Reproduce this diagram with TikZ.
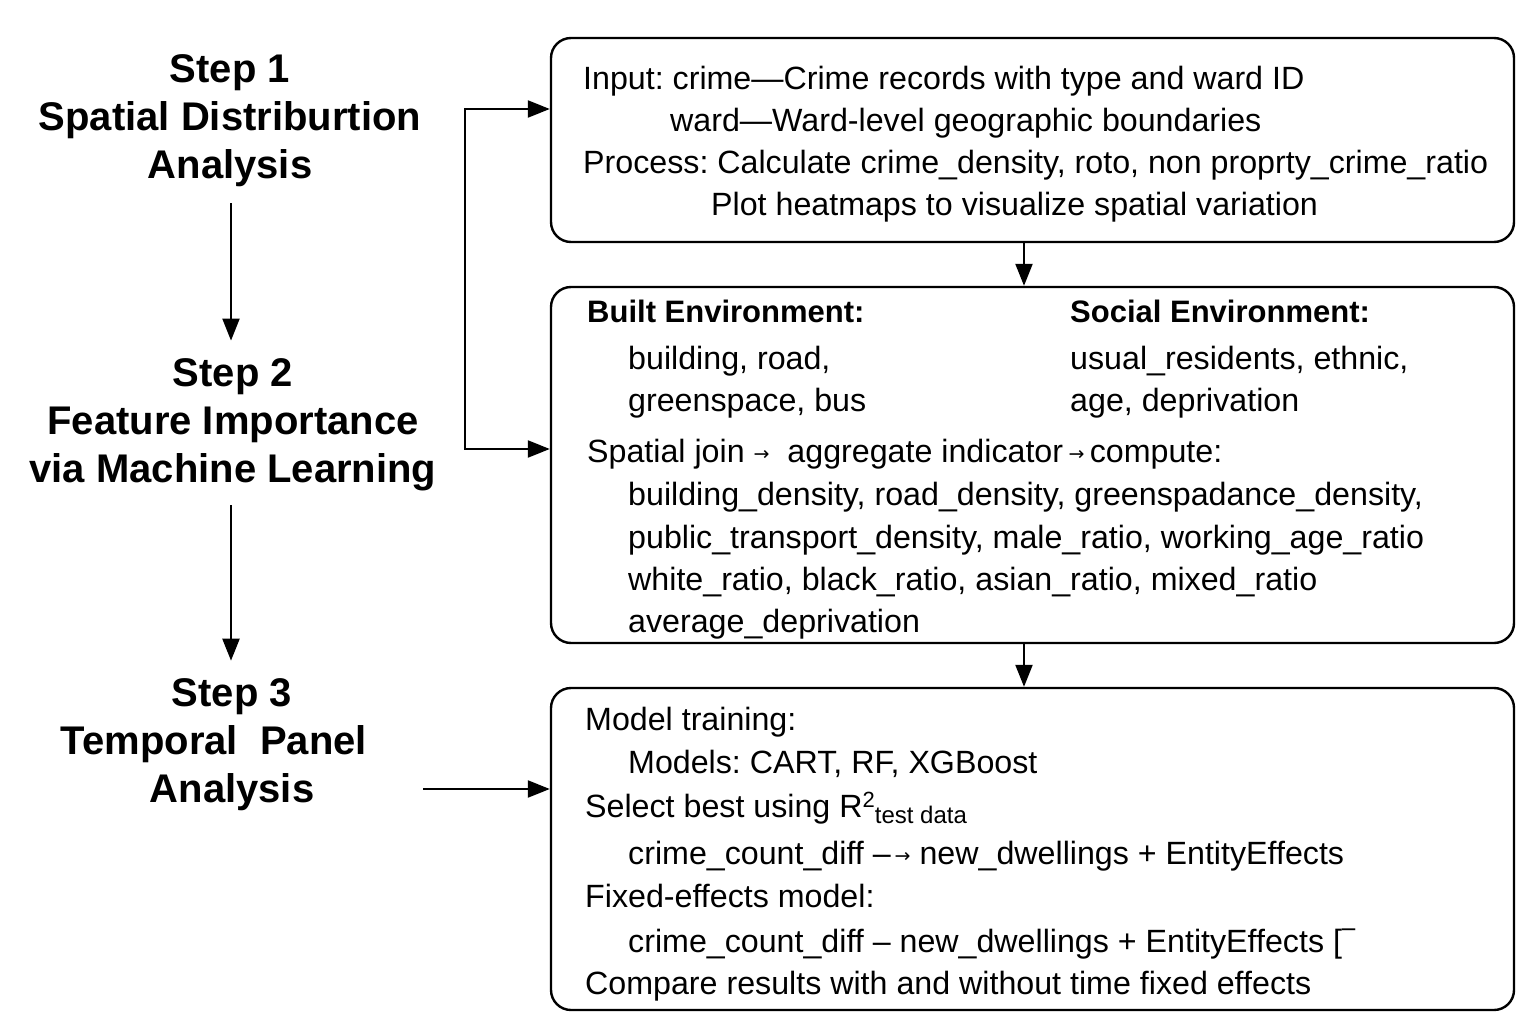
\documentclass[tikz,border=0pt]{standalone}
\usepackage{fontspec}
\setmainfont{Liberation Sans}
\newfontfamily\djv{DejaVu Sans}
\usetikzlibrary{arrows.meta}
\frenchspacing
\newcommand{\sarr}{\raisebox{2pt}{\djv\fontsize{19}{19}\selectfont →}}
\begin{document}
\begin{tikzpicture}[x=1pt,y=-1pt,
  boxst/.style={draw,line width=2.4pt,rounded corners=20pt,minimum width=963pt,inner sep=0pt},
  stepst/.style={align=center,font=\fontsize{40}{48}\selectfont\bfseries,inner sep=0pt},
  txt/.style={anchor=base west,inner sep=0pt,font=\fontsize{32.2}{37}\selectfont},
  btxt/.style={txt,font=\fontsize{31}{37}\selectfont\bfseries},
  arr/.style={line width=2.2pt,-{Triangle[length=22pt,width=17pt]}}]
\useasboundingbox (0,0) rectangle (1536,1024);
\fill[white] (0,0) rectangle (1536,1024);
% boxes
\node[boxst,minimum height=204pt] (b1) at (1032.5,140) {};
\node[boxst,minimum height=356pt] (b2) at (1032.5,465) {};
\node[boxst,minimum height=322pt] (b3) at (1032.5,849) {};
% steps
\node[stepst] (s1) at (230,121) {Step 1\\Spatial Distriburtion\\Analysis};
\node[stepst] (s2) at (233,425) {Step 2\\Feature Importance\\via Machine Learning};
\node[stepst] (s3) at (232,745) {Step 3\\Temporal\ \ Panel\mbox{\kern36pt}\\Analysis};
% box 1 text
\node[txt] (t11) at (583,90) {Input: crime—Crime records with type and ward ID};
\node[txt] (t12) at (670,132) {ward—Ward-level geographic boundaries};
\node[txt] (t13) at (583,174) {Process: Calculate crime\_density, roto, non proprty\_crime\_ratio};
\node[txt] (t14) at (711,216) {Plot heatmaps to visualize spatial variation};
% box 2 text
\node[btxt] (t21) at (587,322) {Built Environment:};
\node[btxt] (t22) at (1070,322) {Social Environment:};
\node[txt] (t23) at (628,369) {building, road,};
\node[txt] (t24) at (628,411) {greenspace, bus};
\node[txt] (t25) at (1070,369) {usual\_residents, ethnic,};
\node[txt] (t26) at (1070,411) {age, deprivation};
\node[txt] (t27) at (587,462) {Spatial join \sarr\ \ aggregate indicator\,\sarr\,compute:};
\node[txt] (t28) at (628,505) {building\_density, road\_density, greenspadance\_density,};
\node[txt] (t29) at (628,548) {public\_transport\_density, male\_ratio, working\_age\_ratio};
\node[txt] (t2a) at (628,590) {white\_ratio, black\_ratio, asian\_ratio, mixed\_ratio};
\node[txt] (t2b) at (628,632) {average\_deprivation};
% box 3 text
\node[txt] (t31) at (585,730) {Model training:};
\node[txt] (t32) at (628,773) {Models: CART, RF, XGBoost};
\node[txt] (t33) at (585,817) {Select best using R\raisebox{10pt}{\fontsize{22}{22}\selectfont 2}\raisebox{-6pt}{\fontsize{24}{24}\selectfont test data}};
\node[txt] (t34) at (628,864) {crime\_count\_diff –\kern4pt\sarr\ new\_dwellings + EntityEffects};
\node[txt] (t35) at (585,907) {Fixed-effects model:};
\node[txt] (t36) at (628,952) {crime\_count\_diff – new\_dwellings + EntityEffects [{\djv\fontsize{26}{26}\selectfont\raisebox{4pt}{‾}}};
\node[txt] (t37) at (585,994) {Compare results with and without time fixed effects};
% connectors
\coordinate (ax) at (231,0);
\draw[arr] ([yshift=-16pt]s1.south -| ax) -- ([yshift=18pt]s2.north -| ax);
\draw[arr] ([yshift=-14pt]s2.south -| ax) -- ([yshift=18pt]s3.north -| ax);
\draw[arr] ([xshift=-8.5pt]b1.south) -- ([xshift=-8.5pt]b2.north);
\draw[arr] ([xshift=-8.5pt]b2.south) -- ([xshift=-8.5pt]b3.north);
\coordinate (br) at (465,279);
\coordinate (in1) at (551,109);
\coordinate (in2) at (551,449);
\coordinate (in3) at (423,789);
\draw[arr] (br) |- (b1.west |- in1);
\draw[arr] (br) |- (b2.west |- in2);
\draw[arr] (in3) -- (b3.west |- in3);
\end{tikzpicture}
\end{document}
